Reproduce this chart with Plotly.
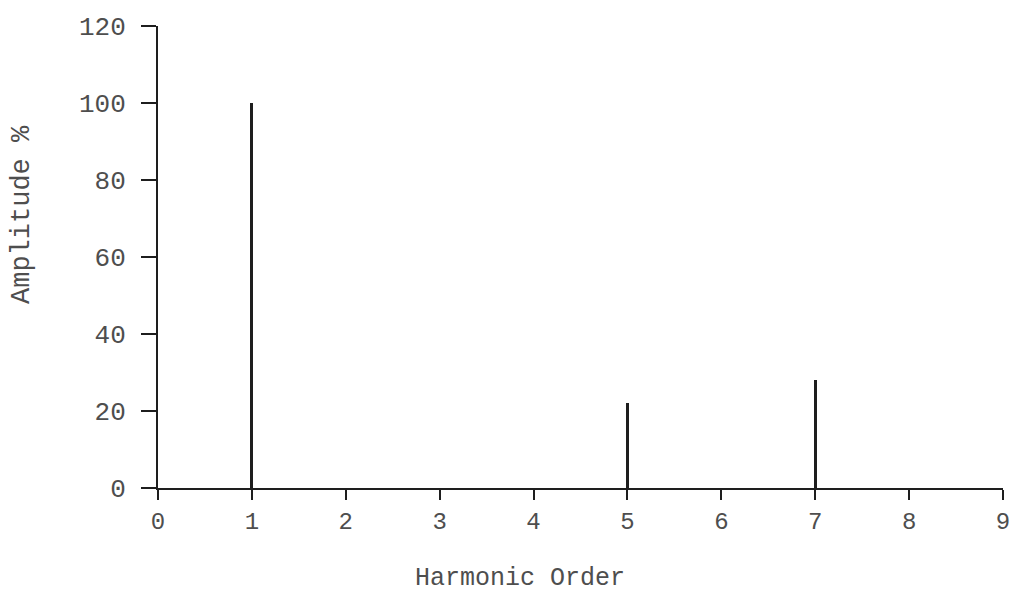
import plotly.graph_objects as go

# Harmonic spectrum: order vs. amplitude in percent of the fundamental
harmonic_order = [1, 5, 7]
amplitude_pct = [100, 22, 28]

x_ticks = [0, 1, 2, 3, 4, 5, 6, 7, 8, 9]
y_ticks = [0, 20, 40, 60, 80, 100, 120]

line_col = "#1e1e1e"
text_col = "#4e4e4e"
mono = "Liberation Mono, DejaVu Sans Mono, monospace"

fig = go.Figure()
fig.add_trace(go.Bar(
    x=harmonic_order,
    y=amplitude_pct,
    width=0.032,
    marker=dict(color=line_col, line=dict(width=0)),
    showlegend=False,
    hoverinfo="x+y",
))

fig.update_layout(
    width=1012,
    height=592,
    paper_bgcolor="white",
    plot_bgcolor="white",
    margin=dict(l=158, r=9, t=26, b=104),
    font=dict(family=mono, color=text_col, size=24),
    bargap=0,
)

fig.update_xaxes(
    range=[0, 9],
    tickvals=x_ticks,
    ticktext=[str(v) for v in x_ticks],
    automargin=False,
    showgrid=False,
    zeroline=False,
    showline=True,
    linecolor=line_col,
    linewidth=2,
    ticks="outside",
    ticklen=10,
    tickwidth=2,
    tickcolor=line_col,
    tickfont=dict(family=mono, size=24, color=text_col),
)

fig.update_yaxes(
    range=[0, 120],
    tickvals=y_ticks,
    ticktext=[str(v) for v in y_ticks],
    automargin=False,
    showgrid=False,
    zeroline=False,
    showline=True,
    linecolor=line_col,
    linewidth=2,
    ticks="outside",
    ticklen=15,
    tickwidth=2,
    tickcolor=line_col,
    ticklabelstandoff=10,
    tickfont=dict(family=mono, size=26, color=text_col),
)

# Axis titles placed as paper-anchored annotations
fig.add_annotation(
    text="Harmonic Order", xref="paper", yref="paper",
    x=(520 - 158) / (1003 - 158), y=-(578 - 488) / (488 - 26),
    showarrow=False, xanchor="center", yanchor="middle",
    font=dict(family=mono, size=25, color=text_col),
)
fig.add_annotation(
    text="Amplitude %", xref="paper", yref="paper",
    x=-(158 - 22) / (1003 - 158), y=(488 - 215) / (488 - 26),
    textangle=-90, showarrow=False, xanchor="center", yanchor="middle",
    font=dict(family=mono, size=27, color=text_col),
)

fig.write_html("out.html")
